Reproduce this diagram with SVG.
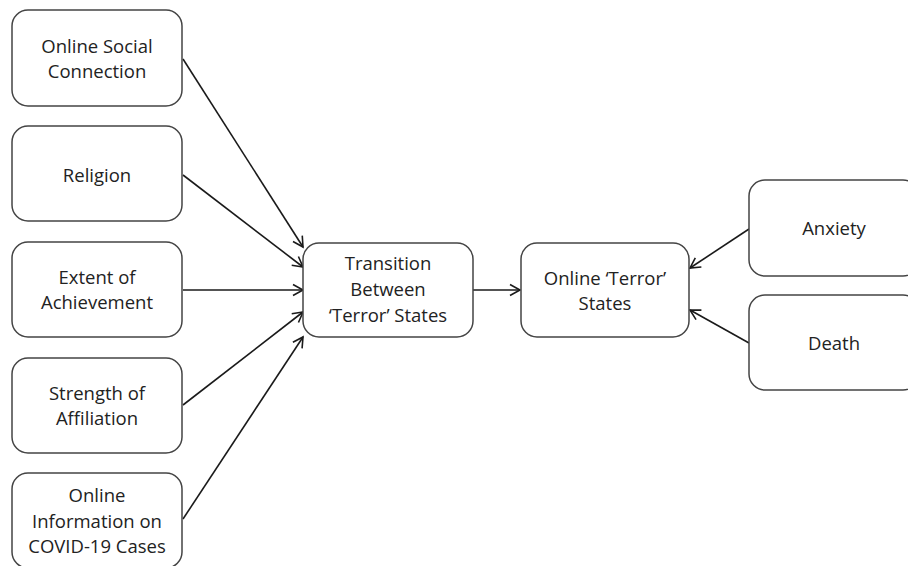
<svg xmlns="http://www.w3.org/2000/svg" width="908" height="566" viewBox="0 0 908 566">
<style>
.box{fill:#fff;stroke:#444;stroke-width:1.5}
.t{font-family:"Open Sans","Liberation Sans",sans-serif;font-size:18.5px;fill:#222;text-anchor:middle}
.c{stroke:#1a1a1a;stroke-width:1.6;fill:none;marker-end:url(#ah)}
</style>
<defs>
<marker id="ah" markerUnits="userSpaceOnUse" markerWidth="14" markerHeight="14" viewBox="0 0 14 14" refX="12" refY="7" orient="auto">
<path d="M2,1.5 L12,7 L2,12.5" fill="none" stroke="#1a1a1a" stroke-width="1.6"/>
</marker>
</defs>
<rect width="908" height="566" fill="#fff"/>
<g id="connectors">
<line class="c" x1="183" y1="59" x2="303" y2="247"/>
<line class="c" x1="183" y1="175" x2="303" y2="267"/>
<line class="c" x1="183" y1="290" x2="303" y2="290"/>
<line class="c" x1="183" y1="405" x2="303" y2="312"/>
<line class="c" x1="183" y1="519" x2="303" y2="337"/>
<line class="c" x1="473" y1="290" x2="520" y2="290"/>
<line class="c" x1="749" y1="229" x2="690" y2="268"/>
<line class="c" x1="749" y1="343" x2="690" y2="310"/>
</g>
<g id="n-social"><rect class="box" x="12" y="10" width="170" height="96" rx="16"/><text class="t" x="97" y="53">Online Social</text><text class="t" x="97" y="78">Connection</text></g>
<g id="n-religion"><rect class="box" x="12" y="126" width="170" height="95" rx="16"/><text class="t" x="97" y="182">Religion</text></g>
<g id="n-achievement"><rect class="box" x="12" y="242" width="170" height="95" rx="16"/><text class="t" x="97" y="284">Extent of</text><text class="t" x="97" y="309">Achievement</text></g>
<g id="n-affiliation"><rect class="box" x="12" y="358" width="170" height="95" rx="16"/><text class="t" x="97" y="400">Strength of</text><text class="t" x="97" y="425">Affiliation</text></g>
<g id="n-covid"><rect class="box" x="12" y="473" width="170" height="95" rx="16"/><text class="t" x="97" y="502">Online</text><text class="t" x="97" y="528">Information on</text><text class="t" x="97" y="553">COVID-19 Cases</text></g>
<g id="n-transition"><rect class="box" x="303" y="243" width="170" height="94" rx="16"/><text class="t" x="388" y="270">Transition</text><text class="t" x="388" y="296">Between</text><text class="t" x="388" y="322">‘Terror’ States</text></g>
<g id="n-online"><rect class="box" x="521" y="243" width="168" height="94" rx="16"/><text class="t" x="605" y="285">Online ‘Terror’</text><text class="t" x="605" y="310">States</text></g>
<g id="n-anxiety"><rect class="box" x="749" y="180" width="170" height="96" rx="16"/><text class="t" x="834" y="235">Anxiety</text></g>
<g id="n-death"><rect class="box" x="749" y="295" width="170" height="95" rx="16"/><text class="t" x="834" y="350">Death</text></g>
</svg>
